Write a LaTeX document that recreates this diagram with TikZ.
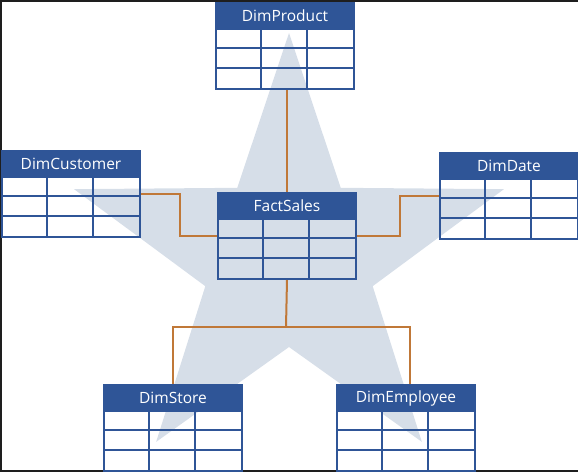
\documentclass[tikz,border=0pt]{standalone}
\usepackage{fontspec}
\setmainfont{Open Sans}
\usetikzlibrary{calc}
\definecolor{hdrblue}{HTML}{2F5597}
\definecolor{starc}{HTML}{D6DEE8}
\definecolor{conn}{HTML}{C07838}
\definecolor{frame}{HTML}{1E1E1E}
\tikzset{
  tblbox/.style={draw=hdrblue, line width=2pt, minimum width=138pt, minimum height=86pt, inner sep=0pt, anchor=north west},
  tblhead/.style={fill=hdrblue, draw=hdrblue, line width=2pt, minimum width=138pt, minimum height=26pt, inner sep=0pt, anchor=north west, text=white, font=\fontsize{15.5}{17}\selectfont},
  gridline/.style={draw=hdrblue, line width=2pt},
  connector/.style={draw=conn, line width=2pt},
}
\newcommand\dimtbl[4]{%
  \node[tblbox] (#1) at (#2,#3) {};
  \node[tblhead] (#1-h) at (#2,#3) {#4};
  \path[gridline] ($(#1.north west)+(0,46)$) -- ($(#1.north east)+(0,46)$)
                  ($(#1.north west)+(0,66)$) -- ($(#1.north east)+(0,66)$)
                  ($(#1-h.south west)+(46,0)$) -- ($(#1.south west)+(46,0)$)
                  ($(#1-h.south west)+(92,0)$) -- ($(#1.south west)+(92,0)$);
}
\begin{document}
\begin{tikzpicture}[x=1pt, y=-1pt]
\useasboundingbox (0,0) rectangle (578,472);
% star
\fill[starc, shift={(289,259)}] (270:226) -- (306:88) -- (342:226) -- (18:88) -- (54:226) -- (90:88) -- (126:226) -- (162:88) -- (198:226) -- (234:88) -- cycle;
% frame
\draw[frame, line width=2pt] (578,1) -- (1,1) -- (1,471) -- (578,471);
% tables
\dimtbl{P}{215}{2}{DimProduct}
\dimtbl{C}{1}{150}{DimCustomer}
\dimtbl{F}{217}{192}{FactSales}
\dimtbl{D}{439}{152}{DimDate}
\dimtbl{S}{103}{384}{DimStore}
\dimtbl{E}{336}{384}{DimEmployee}
% connectors
\coordinate (bus) at (286,327);
\path[connector] (F.north) -- (F.north |- P.south);
\path[connector] (C.east) -- ++(39,0) |- (F.west);
\path[connector] (F.east) -- ++(43,0) |- (D.west);
\path[connector] (F.south) -- (bus);
\path[connector] (S.north) |- (bus) -| ($(E.north)+(4,0)$);
\end{tikzpicture}
\end{document}
